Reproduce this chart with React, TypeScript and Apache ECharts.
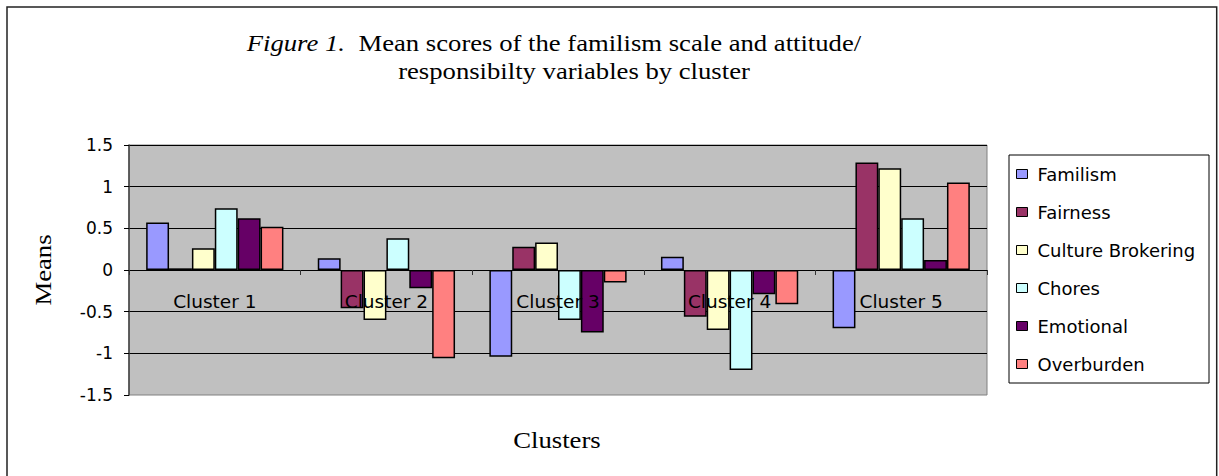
import React, { useEffect, useRef } from 'react';
import * as echarts from 'echarts';

const categories = ['Cluster 1', 'Cluster 2', 'Cluster 3', 'Cluster 4', 'Cluster 5'];
const seriesNames = ['Familism', 'Fairness', 'Culture Brokering', 'Chores', 'Emotional', 'Overburden'];
const familism = [0.57, 0.14, -1.04, 0.16, -0.7];
const fairness = [0.02, -0.46, 0.28, -0.56, 1.29];
const cultureBrokering = [0.26, -0.6, 0.33, -0.72, 1.22];
const chores = [0.74, 0.38, -0.6, -1.2, 0.62];
const emotional = [0.62, -0.22, -0.75, -0.29, 0.12];
const overburden = [0.52, -1.06, -0.15, -0.41, 1.05];
const seriesColors = ['#9999FF', '#993366', '#FFFFCC', '#CCFFFF', '#660066', '#FF8080'];
const yMin = -1.5;
const yMax = 1.5;
const yStep = 0.5;
const titleLine1 = 'Mean scores of the familism scale and attitude/';
const titleLine2 = 'responsibilty variables by cluster';
const yName = 'Means';
const xName = 'Clusters';

export default function App() {
  const ref = useRef<HTMLDivElement>(null);
  useEffect(() => {
    const chart = echarts.init(ref.current as HTMLDivElement, null, { renderer: 'svg' });
    const values = [familism, fairness, cultureBrokering, chores, emotional, overburden];
    const serif = 'Liberation Serif, Times New Roman, serif';
    const sans = 'DejaVu Sans, Arial, sans-serif';
    const gridTop = 145;
    const gridHeight = 250;
    // distance from grid bottom up to the zero line, from the value range
    const zeroOffset = -gridHeight * (0 - yMin) / (yMax - yMin);
    chart.setOption({
      animation: false,
      backgroundColor: '#ffffff',
      grid: {
        left: 129,
        top: gridTop,
        width: 858,
        height: gridHeight,
        show: true,
        backgroundColor: '#C0C0C0',
        borderColor: '#808080',
        borderWidth: 1,
      },
      legend: {
        data: seriesNames,
        orient: 'vertical',
        left: 1016,
        top: 165,
        itemWidth: 11,
        itemHeight: 9,
        itemGap: 20,
        padding: 0,
        icon: 'rect',
        selectedMode: false,
        itemStyle: { borderColor: '#000', borderWidth: 1 },
        textStyle: { fontFamily: sans, fontSize: 18, color: '#000', padding: [0, 0, 0, 5] },
      },
      xAxis: {
        type: 'category',
        data: categories,
        z: 5,
        position: 'bottom',
        offset: zeroOffset,
        axisLine: { onZero: false, lineStyle: { color: '#000', width: 1 } },
        axisTick: { show: true, length: 5, lineStyle: { color: '#333' } },
        axisLabel: { fontFamily: sans, fontSize: 18.5, color: '#000', margin: 22 },
        splitLine: { show: false },
      },
      yAxis: {
        type: 'value',
        min: yMin,
        max: yMax,
        interval: yStep,
        axisLine: { show: true, lineStyle: { color: '#404040', width: 1.5 } },
        axisTick: { show: true, length: 5, lineStyle: { color: '#000' } },
        axisLabel: { fontFamily: sans, fontSize: 17, color: '#000', margin: 16 },
        splitLine: { show: true, showMinLine: false, lineStyle: { color: '#000', width: 1 } },
      },
      series: seriesNames.map((name, i) => ({
        name,
        type: 'bar',
        data: values[i],
        barGap: '0%',
        barCategoryGap: '20%',
        itemStyle: { color: seriesColors[i], borderColor: '#000', borderWidth: 1.5 },
      })),
      graphic: [
        {
          type: 'rect',
          silent: true,
          z: -10,
          shape: { x: 7, y: 7, width: 1209.7, height: 520 },
          style: { fill: 'none', stroke: '#222', lineWidth: 1.5 },
        },
        {
          type: 'rect',
          silent: true,
          z: 0,
          shape: { x: 1009, y: 155, width: 200, height: 228 },
          style: { fill: '#fff', stroke: '#000', lineWidth: 1 },
        },
        {
          type: 'text',
          silent: true,
          x: 554,
          y: 43,
          scaleX: 1.16,
          style: {
            text: '{i|Figure 1.}{n|  ' + titleLine1 + '}',
            align: 'center',
            verticalAlign: 'middle',
            fill: '#000',
            fontFamily: serif,
            fontSize: 23,
            rich: {
              i: { fontFamily: serif, fontSize: 23, fontStyle: 'italic', fill: '#000' },
              n: { fontFamily: serif, fontSize: 23, fill: '#000' },
            },
          },
        },
        {
          type: 'text',
          silent: true,
          x: 574,
          y: 71,
          scaleX: 1.16,
          style: {
            text: titleLine2,
            align: 'center',
            verticalAlign: 'middle',
            fill: '#000',
            fontFamily: serif,
            fontSize: 23,
          },
        },
        {
          type: 'text',
          silent: true,
          x: 43,
          y: 270,
          rotation: Math.PI / 2,
          scaleX: 1.16,
          style: {
            text: yName,
            align: 'center',
            verticalAlign: 'middle',
            fill: '#000',
            fontFamily: serif,
            fontSize: 23,
          },
        },
        {
          type: 'text',
          silent: true,
          x: 557,
          y: 440,
          scaleX: 1.16,
          style: {
            text: xName,
            align: 'center',
            verticalAlign: 'middle',
            fill: '#000',
            fontFamily: serif,
            fontSize: 23,
          },
        },
      ],
    });
    return () => chart.dispose();
  }, []);
  return (
    <div
      ref={ref}
      style={{ position: 'fixed', left: 0, top: 0, width: 1219, height: 476, background: '#fff' }}
    />
  );
}
